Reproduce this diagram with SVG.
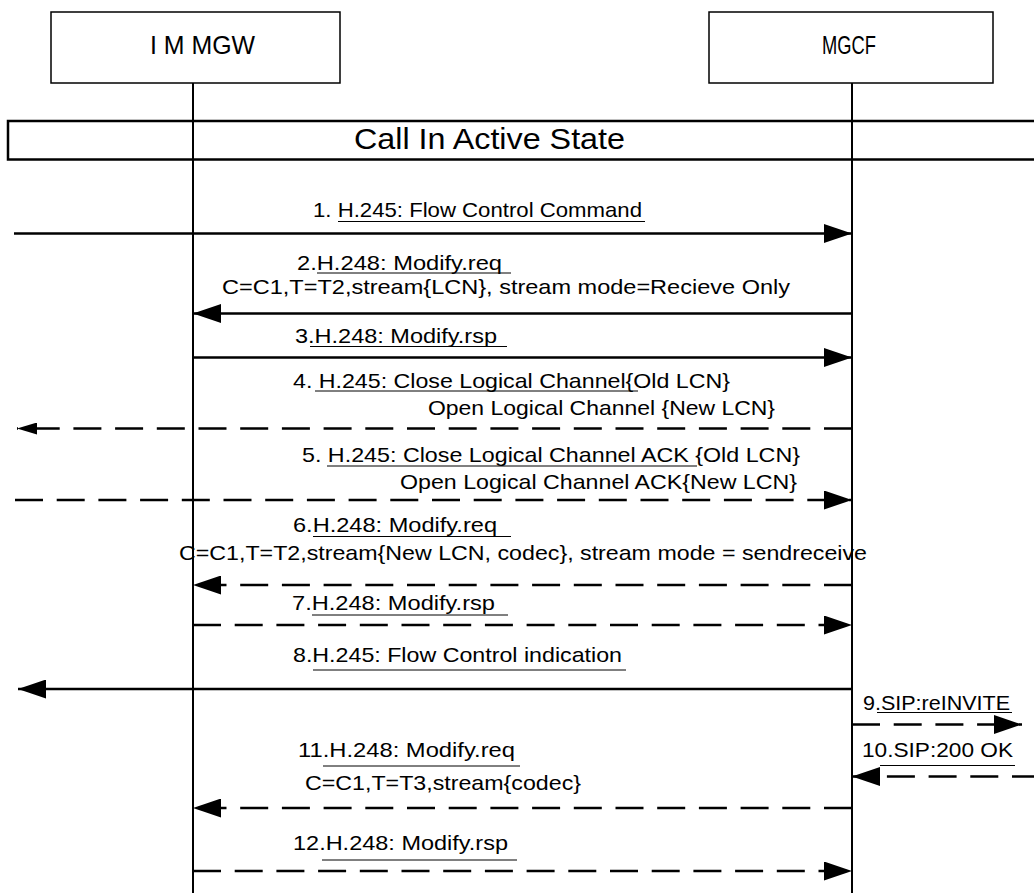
<svg xmlns="http://www.w3.org/2000/svg" width="1034" height="893" viewBox="0 0 1034 893">
<style>
text{font-family:"Liberation Sans",Arial,sans-serif;fill:#000}
.m{font-size:21px}
.box{fill:#fff;stroke:#000;stroke-width:1.5}
.life{stroke:#000;stroke-width:2;fill:none}
.sol{stroke:#000;stroke-width:2.5;fill:none}
.dash{stroke:#000;stroke-width:2.5;fill:none;stroke-dasharray:28 13.7}
.ul{stroke:#000;stroke-width:1;fill:none}
</style>
<defs>
<marker id="ah" markerUnits="userSpaceOnUse" markerWidth="28" markerHeight="19" refX="28" refY="9.5" orient="auto">
<path d="M0,0 L28,9.5 L0,19 z" fill="#000"/>
</marker>
<marker id="ahs" markerUnits="userSpaceOnUse" markerWidth="20" markerHeight="12" refX="20" refY="6" orient="auto">
<path d="M0,0 L20,6 L0,12 z" fill="#000"/>
</marker>
</defs>
<rect width="1034" height="893" fill="#fff"/>

<g id="node-immgw">
<rect class="box" x="51" y="12" width="289" height="71"/>
<text x="150" y="53.5" font-size="26" textLength="105" lengthAdjust="spacingAndGlyphs">I M MGW</text>
<line class="life" x1="193" y1="83" x2="193" y2="893"/>
</g>
<g id="node-mgcf">
<rect class="box" x="709" y="12" width="284" height="71"/>
<text x="822" y="53.5" font-size="26" textLength="54" lengthAdjust="spacingAndGlyphs">MGCF</text>
<line class="life" x1="852" y1="83" x2="852" y2="893"/>
</g>
<g id="state-bar">
<rect x="8" y="121" width="1040" height="38.5" fill="none" stroke="#000" stroke-width="2.5"/>
<text x="354" y="148.5" font-size="29" textLength="271" lengthAdjust="spacingAndGlyphs">Call In Active State</text>
</g>

<g id="connectors">
<line class="sol" x1="14" y1="233.5" x2="852" y2="233.5" marker-end="url(#ah)"/>
<line class="sol" x1="852" y1="313.5" x2="193" y2="313.5" marker-end="url(#ah)"/>
<line class="sol" x1="193" y1="357.5" x2="852" y2="357.5" marker-end="url(#ah)"/>
<line class="dash" x1="852" y1="428.5" x2="17" y2="428.5" marker-end="url(#ahs)"/>
<line class="dash" x1="15" y1="500" x2="852" y2="500" marker-end="url(#ah)"/>
<line class="dash" x1="852" y1="585" x2="193" y2="585" marker-end="url(#ah)"/>
<line class="dash" x1="193" y1="625" x2="852" y2="625" marker-end="url(#ah)"/>
<line class="sol" x1="852" y1="689" x2="18" y2="689" marker-end="url(#ah)"/>
<line class="dash" x1="852" y1="724.5" x2="1022" y2="724.5" marker-end="url(#ah)"/>
<line class="dash" x1="1040" y1="776.5" x2="852" y2="776.5" marker-end="url(#ah)"/>
<line class="dash" x1="852" y1="808" x2="193" y2="808" marker-end="url(#ah)"/>
<line class="dash" x1="193" y1="871" x2="852" y2="871" marker-end="url(#ah)"/>
</g>

<g id="labels">
<text class="m" x="313" y="216.5" textLength="329" lengthAdjust="spacingAndGlyphs">1. H.245: Flow Control Command</text>
<line class="ul" x1="338" y1="221.5" x2="645" y2="221.5"/>

<text class="m" x="297" y="269.5" textLength="205" lengthAdjust="spacingAndGlyphs">2.H.248: Modify.req</text>
<line class="ul" x1="317" y1="273" x2="511" y2="273"/>
<text class="m" x="222" y="294" textLength="568" lengthAdjust="spacingAndGlyphs">C=C1,T=T2,stream{LCN}, stream mode=Recieve Only</text>

<text class="m" x="295" y="343" textLength="202" lengthAdjust="spacingAndGlyphs">3.H.248: Modify.rsp</text>
<line class="ul" x1="310" y1="346.5" x2="507" y2="346.5"/>

<text class="m" x="293" y="388" textLength="437" lengthAdjust="spacingAndGlyphs">4. H.245: Close Logical Channel{Old LCN}</text>
<line class="ul" x1="315" y1="391" x2="638" y2="391"/>
<text class="m" x="428" y="415" textLength="347" lengthAdjust="spacingAndGlyphs">Open Logical Channel {New LCN}</text>

<text class="m" x="302" y="461.5" textLength="498" lengthAdjust="spacingAndGlyphs">5. H.245: Close Logical Channel ACK {Old LCN}</text>
<line class="ul" x1="327" y1="466" x2="697" y2="466"/>
<text class="m" x="400" y="488.5" textLength="397" lengthAdjust="spacingAndGlyphs">Open Logical Channel ACK{New LCN}</text>

<text class="m" x="293" y="531.5" textLength="204" lengthAdjust="spacingAndGlyphs">6.H.248: Modify.req</text>
<line class="ul" x1="313" y1="536.5" x2="511" y2="536.5"/>
<text class="m" x="179" y="559.5" textLength="688" lengthAdjust="spacingAndGlyphs">C=C1,T=T2,stream{New LCN, codec}, stream mode = sendreceive</text>

<text class="m" x="292" y="610" textLength="203" lengthAdjust="spacingAndGlyphs">7.H.248: Modify.rsp</text>
<line class="ul" x1="312" y1="615" x2="508" y2="615"/>

<text class="m" x="293" y="661.5" textLength="329" lengthAdjust="spacingAndGlyphs">8.H.245: Flow Control indication</text>
<line class="ul" x1="313" y1="670" x2="626" y2="670"/>

<text class="m" x="863" y="710" textLength="147" lengthAdjust="spacingAndGlyphs">9.SIP:reINVITE</text>
<line class="ul" x1="877" y1="712.5" x2="1012" y2="712.5"/>

<text class="m" x="862" y="756.5" textLength="151" lengthAdjust="spacingAndGlyphs">10.SIP:200 OK</text>
<line class="ul" x1="880" y1="765.5" x2="1015" y2="765.5"/>

<text class="m" x="298" y="756.5" textLength="217" lengthAdjust="spacingAndGlyphs">11.H.248: Modify.req</text>
<line class="ul" x1="323" y1="766" x2="520" y2="766"/>
<text class="m" x="305" y="789.5" textLength="276" lengthAdjust="spacingAndGlyphs">C=C1,T=T3,stream{codec}</text>

<text class="m" x="293" y="850" textLength="215" lengthAdjust="spacingAndGlyphs">12.H.248: Modify.rsp</text>
<line class="ul" x1="322" y1="860" x2="517" y2="860"/>
</g>
</svg>
